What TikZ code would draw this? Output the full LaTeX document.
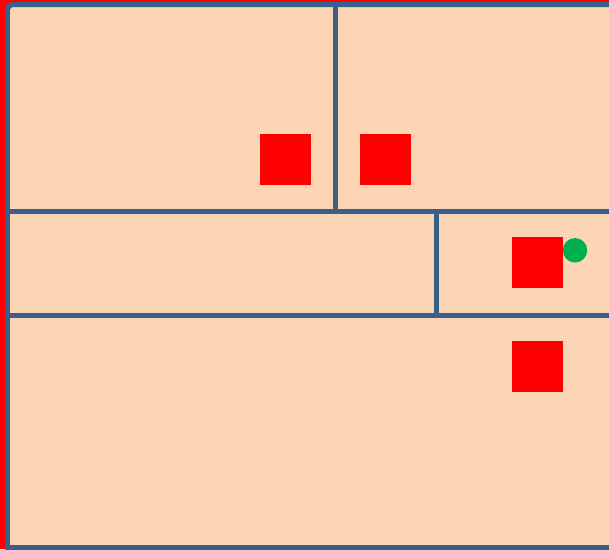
\documentclass[tikz,border=0pt]{standalone}
\usetikzlibrary{calc,positioning}
\definecolor{peach}{HTML}{FCD5B5}
\definecolor{wallblue}{HTML}{3A5F8B}
\definecolor{dotgreen}{HTML}{00B050}

\begin{document}
\begin{tikzpicture}[x=0.02cm,y=-0.02cm,
        wall/.style={draw=wallblue,line width=0.1cm},
        box/.style={rectangle,fill=red,minimum size=1.02cm,inner sep=0pt},
        dot/.style={circle,fill=dotgreen,minimum size=0.49cm,inner sep=0pt}]
        \useasboundingbox (0,0) rectangle (609,549);
        \clip (0,0) rectangle (609,549);
        \fill[red] (0,0) rectangle (609,549);
        \fill[peach] (7.5,4.5) rectangle (620,560);

        % rooms
        \draw[wall,rounded corners=0.1cm] (7.5,560) |- (620,4.5);
        \draw[wall] (5,547.5) -- (620,547.5);
        \draw[wall] (335.5,4.5) -- (335.5,211.5);
        \draw[wall] (7.5,211.5) -- (620,211.5);
        \draw[wall] (436,211.5) -- (436,315);
        \draw[wall] (7.5,315) -- (620,315);

        \node[box] (b1) at (285.5,159.5) {};
        \node[box] (b2) at (385.5,159.5) {};
        \node[box] (b3) at (537.5,262.5) {};
        \node[box] (b4) at (537.5,366.5) {};
        \node[dot] (g) at (575,250.3) {};

    \end{tikzpicture}
\end{document}
